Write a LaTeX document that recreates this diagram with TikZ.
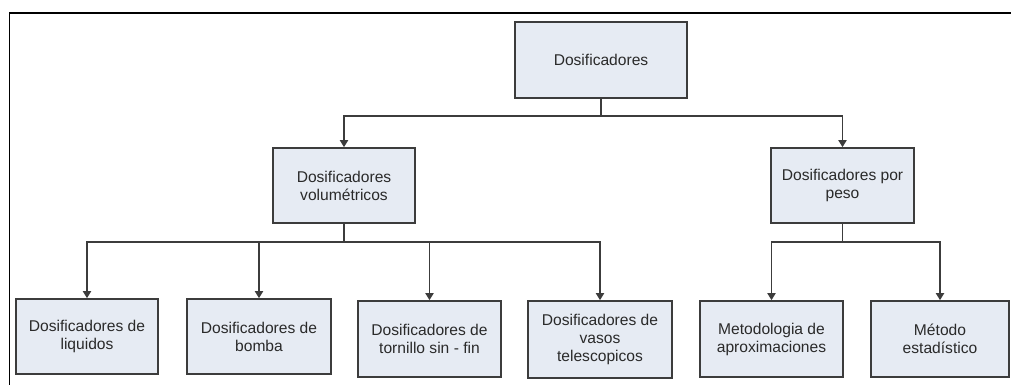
\documentclass[tikz,border=0pt]{standalone}
\usepackage{fontspec}
\setmainfont{Liberation Sans}
\usetikzlibrary{arrows.meta}
\definecolor{boxfill}{HTML}{E6EBF3}
\definecolor{boxline}{HTML}{3C3C3C}
\definecolor{txt}{HTML}{2A2A2A}
\tikzset{
  box/.style={draw=boxline, line width=1.6pt, fill=boxfill, text=txt, align=center,
    font=\fontsize{15.6}{18}\selectfont, inner sep=0pt},
  conn/.style={draw=boxline, line width=1.8pt},
  arr/.style={conn, -{Triangle[length=7pt,width=8pt]}}
}
\begin{document}
\begin{tikzpicture}[x=1pt,y=-1pt]
\useasboundingbox (0,0) rectangle (1011,385);
\draw[black, line width=1.6pt] (9.5,390) -- (9.5,13) -- (1015,13);
\node[box, minimum width=172pt, minimum height=76pt] (root) at (601,60) {Dosificadores};
\node[box, minimum width=142pt, minimum height=75pt] (vol) at (344,185.5) {Dosificadores\\volumétricos};
\node[box, minimum width=143pt, minimum height=75pt] (peso) at (842.5,185.5) {Dosificadores por\\peso};
\node[box, minimum width=142pt, minimum height=75pt] (b1) at (87,336.5) {Dosificadores de\\liquidos};
\node[box, minimum width=144pt, minimum height=75pt] (b2) at (259,336.5) {Dosificadores de\\bomba};
\node[box, minimum width=143pt, minimum height=76pt] (b3) at (429.5,339) {Dosificadores de\\tornillo sin - fin};
\node[box, minimum width=144pt, minimum height=77pt] (b4) at (600,339.5) {Dosificadores de\\vasos\\telescopicos};
\node[box, minimum width=143pt, minimum height=76pt] (b5) at (771.5,339) {Metodologia de\\aproximaciones};
\node[box, minimum width=138pt, minimum height=76pt] (b6) at (940,339) {Método\\estadístico};
\coordinate (j0) at (601,116);
\coordinate (j1) at (344,242);
\coordinate (j2) at (842.5,242);
\draw[conn] (root.south) -- (j0);
\draw[arr] (j0) -| (vol.north);
\draw[arr] (j0) -| (peso.north);
\draw[conn] (vol.south) -- (j1);
\draw[arr] (j1) -| (b1.north);
\draw[arr] (j1) -| (b2.north);
\draw[arr] (j1) -| (b3.north);
\draw[arr] (j1) -| (b4.north);
\draw[conn] (peso.south) -- (j2);
\draw[arr] (j2) -| (b5.north);
\draw[arr] (j2) -| (b6.north);
\end{tikzpicture}
\end{document}
